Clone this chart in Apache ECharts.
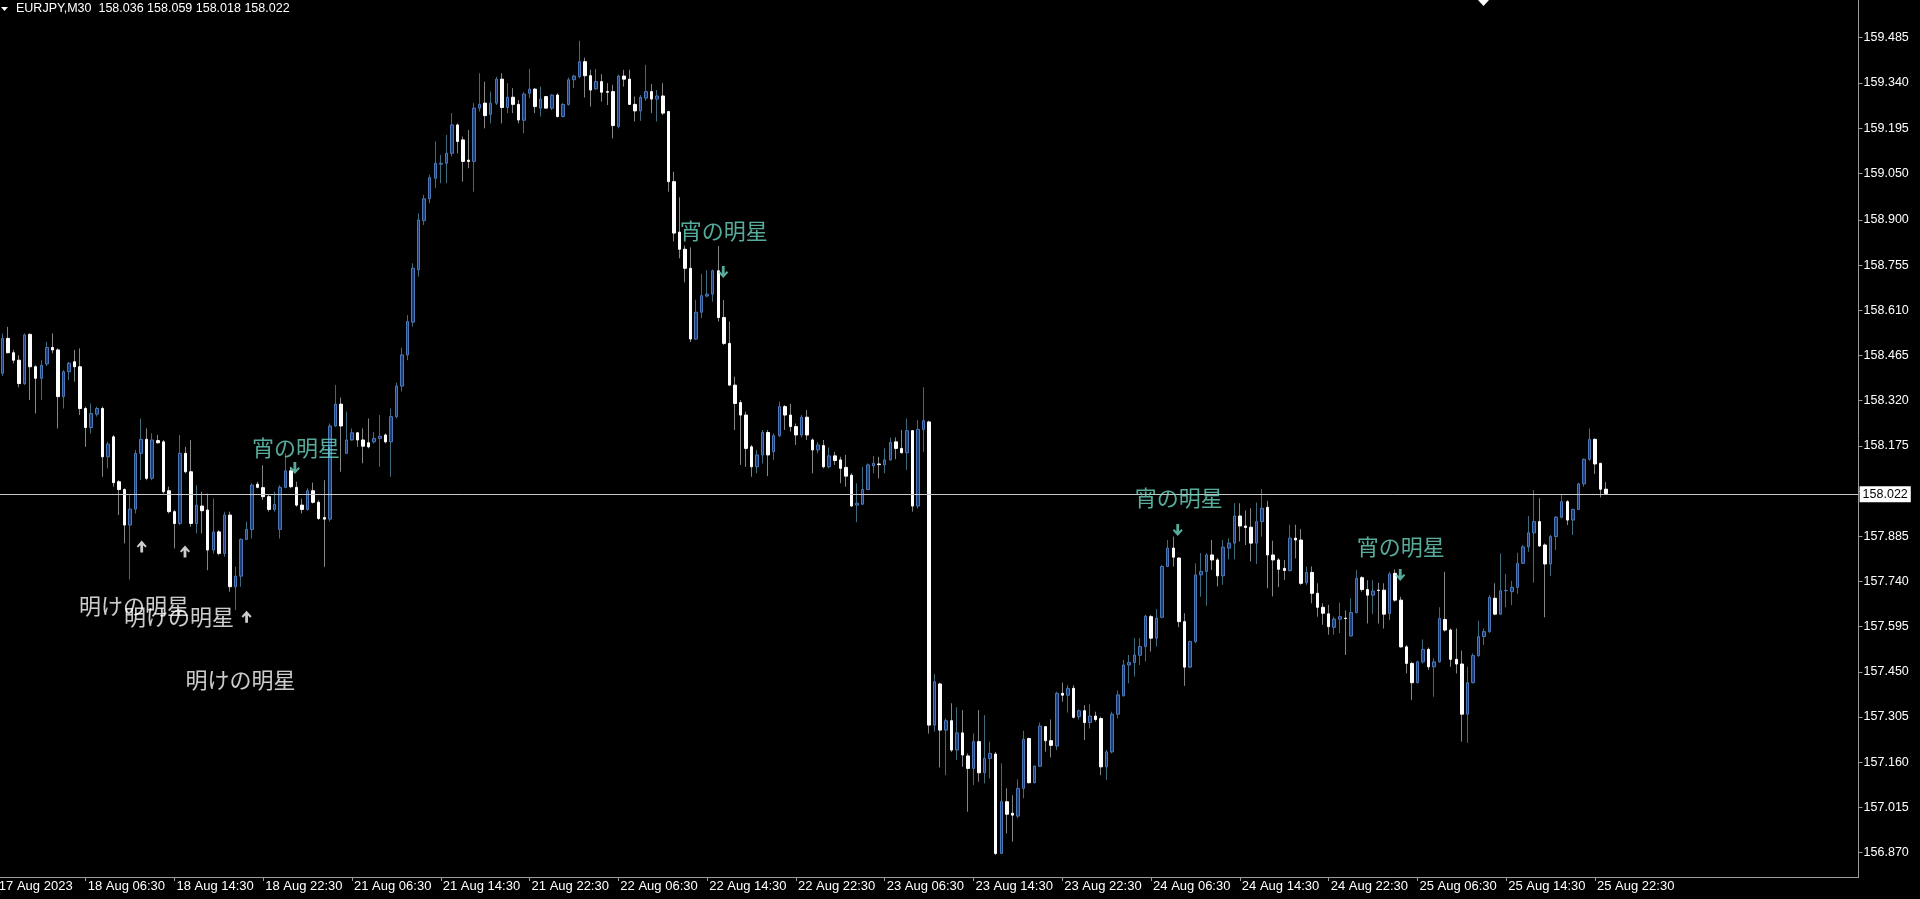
<!DOCTYPE html>
<html><head><meta charset="utf-8">
<script src="https://cdn.jsdelivr.net/npm/echarts@6/dist/echarts.min.js"></script>
<style>html,body{margin:0;padding:0;background:#000;}#c{width:1920px;height:899px;}</style>
</head><body><div id="c"></div>
<script>
const symbolName = 'EURJPY,M30';
const startUTC = Date.UTC(2023, 7, 17, 22, 30);
const padBars = 45;

const opens = [
158.430,158.408,158.520,158.474,158.450,158.375,158.533,158.429,158.392,158.438,
158.491,158.483,158.333,158.413,158.445,158.429,158.295,158.234,158.277,158.295,
158.140,158.204,158.060,158.035,157.921,157.972,158.151,158.196,158.071,158.192,
158.188,158.031,157.964,157.926,158.151,158.092,157.926,157.982,157.969,157.841,
157.899,157.830,157.953,157.723,157.757,157.875,157.907,158.052,158.041,158.012,
157.971,157.907,158.042,158.095,158.042,157.985,157.971,158.031,157.994,157.945,
157.940,158.239,158.309,158.151,158.194,158.217,158.194,158.185,158.188,158.199,
158.210,158.188,158.269,158.367,158.467,158.572,158.740,158.898,158.968,159.034,
159.079,159.082,159.114,159.205,159.157,159.092,159.088,159.259,159.275,159.239,
159.275,159.352,159.261,159.294,159.271,159.220,159.307,159.320,159.259,159.296,
159.259,159.301,159.232,159.271,159.350,159.360,159.408,159.363,159.321,159.344,
159.312,159.312,159.200,159.362,159.352,159.271,159.250,159.291,159.312,159.288,
159.298,159.248,159.023,158.861,158.806,158.745,158.518,158.604,158.656,158.662,
158.737,158.587,158.504,158.370,158.314,158.274,158.172,158.108,158.146,158.218,
158.156,158.208,158.301,158.274,158.237,158.210,158.267,158.194,158.162,158.176,
158.108,158.143,158.130,158.106,158.081,157.985,157.988,158.035,158.111,158.117,
158.114,158.130,158.188,158.167,158.153,158.224,157.982,158.228,158.252,157.279,
157.411,157.263,157.293,157.199,157.254,157.180,157.140,157.226,157.126,157.172,
157.186,156.867,157.033,156.996,156.987,157.076,157.236,157.094,157.147,157.274,
157.229,157.212,157.381,157.375,157.397,157.306,157.325,157.287,157.308,157.300,
157.145,157.193,157.314,157.373,157.472,157.480,157.503,157.531,157.627,157.558,
157.625,157.788,157.847,157.815,157.611,157.465,157.547,157.761,157.772,157.825,
157.809,157.758,157.847,157.863,157.950,157.918,157.914,157.863,157.932,157.978,
157.825,157.809,157.782,157.775,157.879,157.873,157.736,157.769,157.702,157.657,
157.636,157.593,157.619,157.622,157.565,157.640,157.752,157.714,157.696,157.712,
157.712,157.637,157.766,157.680,157.530,157.477,157.415,157.482,157.522,157.466,
157.482,157.618,157.584,157.490,157.475,157.314,157.415,157.502,157.563,157.579,
157.686,157.635,157.710,157.707,157.721,157.798,157.851,157.896,157.932,157.857,
157.796,157.884,157.946,157.996,157.937,157.971,158.053,158.132,158.196,158.119,
158.036];

const highs = [
158.470,158.536,158.557,158.483,158.466,158.536,158.536,158.434,158.450,158.509,
158.536,158.488,158.418,158.445,158.483,158.488,158.301,158.311,158.301,158.301,
158.188,158.210,158.065,158.039,158.017,158.162,158.263,158.231,158.215,158.210,
158.194,158.044,157.969,158.210,158.172,158.194,158.049,158.028,158.022,158.006,
157.905,157.964,157.964,157.787,157.878,157.932,158.055,158.060,158.113,158.017,
158.028,158.049,158.151,158.108,158.060,158.006,158.039,158.057,158.001,158.065,
158.247,158.370,158.330,158.285,158.231,158.220,158.231,158.263,158.220,158.274,
158.215,158.295,158.378,158.490,158.595,158.761,158.922,158.981,159.045,159.152,
159.109,159.173,159.243,159.210,159.168,159.189,159.275,159.371,159.344,159.312,
159.360,159.371,159.339,159.323,159.285,159.310,159.385,159.323,159.328,159.298,
159.304,159.307,159.275,159.357,159.366,159.475,159.421,159.382,159.385,159.368,
159.339,159.334,159.366,159.382,159.382,159.296,159.301,159.398,159.336,159.317,
159.339,159.250,159.055,158.973,158.818,158.812,158.644,158.727,158.739,158.741,
158.816,158.643,158.574,158.397,158.322,158.285,158.178,158.162,158.226,158.226,
158.215,158.317,158.306,158.310,158.247,158.274,158.290,158.199,158.188,158.194,
158.170,158.156,158.140,158.146,158.087,158.055,158.108,158.119,158.143,158.140,
158.167,158.202,158.202,158.226,158.263,158.226,158.258,158.363,158.256,157.443,
157.415,157.300,157.349,157.336,157.327,157.188,157.252,157.327,157.311,157.226,
157.193,157.156,157.076,157.054,157.105,157.261,157.239,157.150,157.287,157.276,
157.297,157.386,157.415,157.407,157.407,157.329,157.343,157.346,157.322,157.306,
157.199,157.322,157.390,157.488,157.504,157.558,157.558,157.633,157.633,157.651,
157.793,157.873,157.884,157.818,157.638,157.550,157.798,157.831,157.831,157.873,
157.815,157.873,157.879,157.991,157.991,157.968,157.975,157.993,158.036,157.999,
157.871,157.815,157.809,157.922,157.922,157.908,157.788,157.788,157.734,157.670,
157.665,157.627,157.672,157.647,157.686,157.777,157.757,157.744,157.744,157.736,
157.734,157.771,157.779,157.691,157.536,157.482,157.486,157.554,157.528,157.493,
157.657,157.771,157.589,157.589,157.518,157.466,157.509,157.614,157.589,157.696,
157.734,157.830,157.764,157.742,157.832,157.857,157.950,158.033,158.007,157.862,
157.889,157.950,158.017,158.001,157.974,158.057,158.135,158.231,158.199,158.121,
158.059];

const lows = [
158.390,158.399,158.472,158.440,158.363,158.370,158.322,158.279,158.322,158.431,
158.472,158.231,158.295,158.386,158.381,158.274,158.172,158.215,158.269,158.076,
158.103,158.044,157.953,157.862,157.746,157.958,158.065,158.065,158.065,158.183,
158.022,157.958,157.846,157.921,158.087,157.915,157.894,157.894,157.776,157.830,
157.824,157.819,157.707,157.648,157.723,157.873,157.878,158.039,158.001,157.964,
157.964,157.878,158.039,158.039,157.980,157.958,157.967,157.990,157.937,157.787,
157.932,158.236,158.092,158.151,158.192,158.172,158.119,158.167,158.183,158.108,
158.183,158.076,158.263,158.350,158.450,158.558,158.718,158.884,158.954,159.002,
159.018,159.018,159.104,159.114,159.023,159.066,158.991,159.248,159.194,159.210,
159.269,159.210,159.243,159.243,159.210,159.178,159.291,159.243,159.232,159.257,
159.253,159.229,159.229,159.267,159.323,159.355,159.293,159.264,159.317,159.280,
159.269,159.162,159.194,159.328,159.269,159.216,159.218,159.282,159.243,159.216,
159.237,158.991,158.831,158.777,158.700,158.508,158.515,158.585,158.652,158.638,
158.574,158.499,158.370,158.226,158.114,158.108,158.076,158.087,158.119,158.078,
158.130,158.203,158.226,158.221,158.178,158.202,158.194,158.087,158.151,158.103,
158.103,158.114,158.055,158.044,157.980,157.930,157.985,158.033,158.087,158.071,
158.087,158.128,158.132,158.151,158.098,157.964,157.974,158.156,157.252,157.258,
157.143,157.118,157.193,157.167,157.145,157.001,157.087,157.097,157.092,157.108,
156.862,156.865,156.931,156.905,156.980,157.044,157.092,157.092,157.145,157.194,
157.175,157.199,157.354,157.319,157.300,157.297,157.231,157.268,157.290,157.118,
157.103,157.188,157.300,157.371,157.413,157.435,157.472,157.483,157.515,157.531,
157.622,157.786,157.788,157.593,157.405,157.462,157.542,157.691,157.662,157.777,
157.724,157.729,157.811,157.811,157.868,157.857,157.804,157.796,157.884,157.718,
157.692,157.722,157.745,157.772,157.814,157.729,157.729,157.670,157.627,157.601,
157.569,157.569,157.574,157.504,157.563,157.638,157.707,157.605,157.635,157.605,
157.589,157.616,157.675,157.528,157.445,157.359,157.413,157.477,157.456,157.370,
157.479,157.579,157.466,157.445,157.226,157.222,157.413,157.498,157.536,157.575,
157.632,157.632,157.657,157.664,157.700,157.796,157.835,157.736,157.851,157.625,
157.757,157.841,157.942,157.921,157.889,157.969,158.044,158.127,158.085,158.010,
158.018];

const closes = [
158.410,158.520,158.474,158.450,158.375,158.531,158.429,158.392,158.434,158.491,
158.483,158.333,158.413,158.440,158.429,158.295,158.234,158.279,158.295,158.140,
158.181,158.057,158.035,157.921,157.972,158.151,158.196,158.071,158.194,158.185,
158.028,157.964,157.926,158.151,158.092,157.926,157.985,157.967,157.841,157.899,
157.830,157.953,157.723,157.757,157.875,157.907,158.049,158.042,158.012,157.971,
157.987,158.042,158.095,158.044,157.985,157.971,158.031,157.994,157.942,157.940,
158.239,158.309,158.239,158.194,158.217,158.194,158.174,158.172,158.199,158.206,
158.188,158.269,158.367,158.467,158.574,158.745,158.900,158.968,159.036,159.082,
159.082,159.114,159.205,159.152,159.088,159.088,159.259,159.271,159.235,159.275,
159.352,159.261,159.294,159.271,159.221,159.304,159.320,159.264,159.288,159.259,
159.301,159.232,159.271,159.350,159.362,159.408,159.363,159.317,159.344,159.310,
159.310,159.203,159.362,159.352,159.271,159.250,159.294,159.312,159.288,159.298,
159.243,159.023,158.858,158.806,158.745,158.518,158.604,158.657,158.662,158.737,
158.587,158.504,158.370,158.311,158.274,158.167,158.108,158.146,158.218,158.146,
158.208,158.301,158.274,158.237,158.210,158.267,158.210,158.162,158.178,158.108,
158.143,158.128,158.103,158.078,157.982,157.991,158.035,158.114,158.119,158.115,
158.130,158.186,158.167,158.153,158.224,157.982,158.228,158.256,157.279,157.418,
157.263,157.293,157.199,157.254,157.183,157.140,157.226,157.126,157.172,157.188,
156.867,157.033,156.993,156.990,157.076,157.233,157.094,157.147,157.276,157.229,
157.214,157.381,157.375,157.397,157.304,157.325,157.287,157.308,157.297,157.145,
157.193,157.314,157.376,157.472,157.480,157.504,157.531,157.629,157.558,157.622,
157.788,157.847,157.818,157.611,157.465,157.547,157.761,157.772,157.825,157.809,
157.758,157.850,157.863,157.950,157.918,157.913,157.863,157.932,157.975,157.825,
157.809,157.779,157.775,157.879,157.873,157.734,157.769,157.702,157.657,157.638,
157.595,157.619,157.627,157.621,157.640,157.750,157.714,157.696,157.709,157.711,
157.635,157.764,157.680,157.530,157.477,157.415,157.482,157.522,157.466,157.482,
157.621,157.584,157.490,157.475,157.314,157.415,157.502,157.563,157.579,157.689,
157.635,157.710,157.711,157.721,157.798,157.851,157.896,157.932,157.854,157.796,
157.884,157.946,157.996,157.937,157.971,158.053,158.132,158.196,158.117,158.036,
158.022];

const xTickEvery = 16;
const xTickLabels = ['17 Aug 2023','18 Aug 06:30','18 Aug 14:30','18 Aug 22:30','21 Aug 06:30',
  '21 Aug 14:30','21 Aug 22:30','22 Aug 06:30','22 Aug 14:30','22 Aug 22:30','23 Aug 06:30',
  '23 Aug 14:30','23 Aug 22:30','24 Aug 06:30','24 Aug 14:30','24 Aug 22:30','25 Aug 06:30',
  '25 Aug 14:30','25 Aug 22:30'];

const yTickValues = [159.485,159.340,159.195,159.050,158.900,158.755,158.610,158.465,158.320,
  158.175,158.030,157.885,157.740,157.595,157.450,157.305,157.160,157.015,156.870];
const yLabelValues = [159.485,159.340,159.195,159.050,158.900,158.755,158.610,158.465,158.320,
  158.175,157.885,157.740,157.595,157.450,157.305,157.160,157.015,156.870];
const yMin = 156.7915, yMax = 159.606;

// annotation anchors: [bar position, price]
const eveningStarText  = [[53.9,158.171],[131.0,158.865],[213.0,158.008],[253.0,157.852]];
const eveningStarArrow = [[53.7,158.104],[130.9,158.733],[212.8,157.905],[252.9,157.761]];
const morningStarText  = [[24.7,157.661],[32.8,157.627],[43.9,157.424]];
const morningStarArrow = [[26.1,157.852],[33.9,157.836],[45.0,157.627]];

// ---- build ----
const nBars = closes.length;
const nCats = nBars + padBars;
const categories = [];
let t = startUTC;
for (let k = 0; k < nCats; k++) {
  const d = new Date(t);
  categories.push(d.toISOString().slice(0,16).replace('T',' '));
  t += 30*60000;
  let nd = new Date(t);
  while (nd.getUTCDay() === 6 || nd.getUTCDay() === 0) { t += 30*60000; nd = new Date(t); }
}
const wickData = [], bodyData = [];
for (let k = 0; k < nBars; k++) {
  wickData.push([opens[k], closes[k], lows[k], highs[k]]);
  bodyData.push([opens[k], closes[k], Math.min(opens[k],closes[k]), Math.max(opens[k],closes[k])]);
}
const last = nBars - 1;
const lastClose = closes[last];
const header = symbolName + '  ' + [opens[last],highs[last],lows[last],closes[last]].map(v=>v.toFixed(3)).join(' ');
const tickShow = (idx) => idx % xTickEvery === 0 && idx < nBars;
const FONT = 'Liberation Sans';
const ARROW_DOWN = 'path://M3.6,0 L6.4,0 L6.4,7.2 L8.6,5 L10,6.4 L5,12 L0,6.4 L1.4,5 L3.6,7.2 Z';

const chart = echarts.init(document.getElementById('c'), null, {renderer:'canvas'});
chart.setOption({
  backgroundColor: '#000',
  animation: false,
  grid: {left: -5.9, right: 61.4, top: 0, bottom: 22, containLabel: false, outerBoundsMode: 'none'},
  xAxis: [{
    type: 'category', data: categories, boundaryGap: true,
    axisLine: {show: true, onZero: false, lineStyle: {color: '#9c9c9c', width: 1}},
    axisTick: {show: true, interval: tickShow, alignWithLabel: true, length: 4, lineStyle: {color: '#9c9c9c'}},
    axisLabel: {interval: tickShow, formatter: (v, i) => xTickLabels[i / xTickEvery],
      align: 'left', padding: [0,0,0,2], margin: 3, color: '#fff', fontSize: 13, fontFamily: FONT},
    splitLine: {show: false}
  }, {
    type: 'value', min: -0.5, max: nCats - 0.5, show: false,
    axisLine: {show: false, onZero: false}, axisTick: {show: false}, axisLabel: {show: false}, splitLine: {show: false}
  }],
  yAxis: {
    type: 'value', position: 'right', min: yMin, max: yMax, scale: true,
    axisLine: {show: true, onZero: false, lineStyle: {color: '#9c9c9c', width: 1}},
    axisTick: {show: true, customValues: yTickValues, length: 4, lineStyle: {color: '#9c9c9c'}},
    axisLabel: {customValues: yLabelValues, formatter: v => Number(v).toFixed(3), margin: 5,
      color: '#fff', fontSize: 12.5, fontFamily: FONT},
    splitLine: {show: false}
  },
  graphic: [
    {type: 'polygon', shape: {points: [[1,7],[8,7],[4.5,11]]}, style: {fill: '#fff'}},
    {type: 'text', left: 16, top: 2, style: {text: header, fill: '#fff', font: '12.5px "Liberation Sans"'}},
    {type: 'polygon', shape: {points: [[1478,0],[1489,0],[1483.5,6]]}, style: {fill: '#fff'}}
  ],
  series: [{
    type: 'candlestick', name: 'wick', data: wickData, barWidth: 1, silent: true,
    itemStyle: {color: '#3f6c7c', color0: '#858585', borderColor: '#3f6c7c', borderColor0: '#858585', borderWidth: 1}
  }, {
    type: 'candlestick', name: 'body', data: bodyData, barWidth: 3, silent: true,
    itemStyle: {color: '#1d3b78', color0: '#ffffff', borderColor: '#4c78b8', borderColor0: '#ffffff', borderWidth: 1},
    markLine: {
      silent: true, symbol: ['none','none'], animation: false,
      lineStyle: {color: '#c8c8c8', width: 1, type: 'solid'},
      label: {show: true, position: 'end', distance: 1, formatter: () => lastClose.toFixed(3),
        backgroundColor: '#fff', color: '#000', padding: [2,3,1,3], fontSize: 12.5, fontFamily: FONT},
      data: [{yAxis: lastClose}]
    }
  }, {
    type: 'scatter', xAxisIndex: 1, data: eveningStarText, symbolSize: 1, itemStyle: {color: 'rgba(0,0,0,0)'},
    silent: true, z: 5,
    label: {show: true, position: 'inside', formatter: '宵の明星', color: '#6cd6c2', fontSize: 22, fontFamily: 'Noto Sans CJK JP'}
  }, {
    type: 'scatter', xAxisIndex: 1, data: eveningStarArrow, symbol: ARROW_DOWN, symbolSize: [10, 12],
    itemStyle: {color: '#6cd6c2'}, silent: true, z: 5
  }, {
    type: 'scatter', xAxisIndex: 1, data: morningStarText, symbolSize: 1, itemStyle: {color: 'rgba(0,0,0,0)'},
    silent: true, z: 5,
    label: {show: true, position: 'inside', formatter: '明けの明星', color: '#ffffff', fontSize: 22, fontFamily: 'Noto Sans CJK JP'}
  }, {
    type: 'scatter', xAxisIndex: 1, data: morningStarArrow, symbol: ARROW_DOWN, symbolRotate: 180, symbolSize: [10, 12],
    itemStyle: {color: '#ffffff'}, silent: true, z: 5
  }]
});
</script></body></html>
